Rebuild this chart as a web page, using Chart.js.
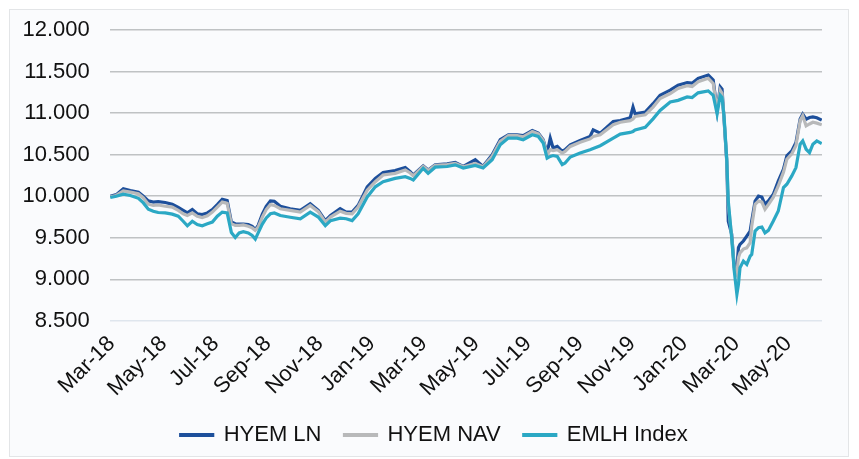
<!DOCTYPE html>
<html>
<head>
<meta charset="utf-8">
<script src="https://cdn.jsdelivr.net/npm/chart.js@4.4.1/dist/chart.umd.min.js"></script>
<style>
    html, body { margin: 0; padding: 0; background: #ffffff; }
    #frame {
        position: absolute; left: 9px; top: 9px;
        width: 838px; height: 446px;
        border: 1px solid #e3e5e7; background: #fafbfd;
    }
    canvas { display: block; }
</style>
</head>
<body>
<div id="frame"><canvas id="perfChart" width="838" height="446"></canvas></div>
<script>
// position of each observation in months, 0 = Mar-18 tick
const monthPos = [
    -0.05, 0.18, 0.45, 0.72, 1.03, 1.22, 1.41, 1.60, 1.79, 2.06,
    2.33, 2.56, 2.75, 2.91, 3.10, 3.29, 3.48, 3.68, 3.87, 4.06,
    4.25, 4.44, 4.60, 4.75, 4.90, 5.06, 5.25, 5.40, 5.52, 5.63,
    5.79, 5.94, 6.10, 6.25, 6.48, 6.86, 7.25, 7.63, 7.94, 8.21,
    8.41, 8.78, 9.01, 9.24, 9.47, 9.82, 10.13, 10.43, 10.89, 11.28,
    11.47, 11.59, 11.97, 12.16, 12.43, 12.89, 13.20, 13.51, 13.97, 14.27,
    14.62, 14.93, 15.24, 15.58, 15.81, 16.16, 16.39, 16.58, 16.73, 16.85,
    16.96, 17.12, 17.31, 17.42, 17.62, 18.00, 18.38, 18.50, 18.77, 19.27,
    19.54, 19.92, 20.03, 20.11, 20.50, 20.80, 21.07, 21.46, 21.76, 22.11,
    22.30, 22.53, 22.92, 23.11, 23.26, 23.38, 23.45, 23.53, 23.63, 23.69,
    23.82, 23.92, 24.02, 24.08, 24.14, 24.27, 24.40, 24.53, 24.59, 24.72,
    24.85, 24.98, 25.10, 25.23, 25.42, 25.61, 25.81, 25.94, 26.13, 26.29,
    26.45, 26.55, 26.68, 26.81, 26.94, 27.09, 27.28
];

const hyemLn = [
    10000, 10020, 10090, 10070, 10050, 10000, 9945, 9930, 9935, 9925,
    9905, 9865, 9830, 9800, 9840, 9790, 9780, 9800, 9840, 9900,
    9965, 9950, 9690, 9670, 9665, 9665, 9660, 9640, 9600, 9650,
    9785, 9880, 9945, 9940, 9880, 9850, 9830, 9910, 9830, 9707,
    9768, 9850, 9810, 9809, 9890, 10114, 10215, 10285, 10309, 10346,
    10297, 10256, 10366, 10317, 10378, 10390, 10406, 10360, 10440, 10360,
    10500, 10680, 10740, 10740, 10730, 10790, 10760, 10680, 10520, 10700,
    10580, 10600, 10540, 10560, 10620, 10672, 10720, 10800, 10760, 10900,
    10910, 10943, 11073, 10992, 11012, 11114, 11215, 11276, 11337, 11366,
    11360, 11419, 11459, 11398, 11033, 11317, 11290, 10910, 10425, 9700,
    9546, 9150, 9140, 9381, 9422, 9462, 9522, 9582, 9703, 9943,
    10003, 9990, 9904, 9943, 10024, 10184, 10325, 10486, 10546, 10646,
    10928, 10988, 10928, 10947, 10955, 10945, 10916
];

const hyemNav = [
    9995, 10010, 10065, 10050, 10030, 9980, 9905, 9890, 9895, 9880,
    9870, 9830, 9790, 9770, 9800, 9760, 9745, 9765, 9810, 9870,
    9930, 9915, 9670, 9650, 9650, 9655, 9640, 9620, 9590, 9630,
    9750, 9840, 9900, 9890, 9850, 9830, 9810, 9890, 9815, 9690,
    9750, 9820, 9795, 9789, 9870, 10073, 10175, 10256, 10276, 10317,
    10280, 10245, 10360, 10310, 10372, 10380, 10395, 10355, 10395, 10355,
    10480, 10660, 10730, 10730, 10715, 10780, 10750, 10670, 10500, 10560,
    10550, 10560, 10520, 10540, 10600, 10650, 10690, 10720, 10740, 10860,
    10890, 10910, 10930, 10960, 10980, 11073, 11175, 11236, 11297, 11330,
    11320, 11378, 11419, 11358, 11040, 11276, 11240, 10930, 10440, 9900,
    9520, 9120, 9060, 9260, 9320, 9365, 9380, 9441, 9640, 9904,
    9943, 9930, 9843, 9900, 9990, 10124, 10290, 10446, 10510, 10610,
    10910, 10968, 10847, 10870, 10890, 10880, 10859
];

const emlhIndex = [
    9985, 10000, 10025, 10010, 9975, 9920, 9845, 9820, 9805, 9800,
    9785, 9760, 9700, 9645, 9700, 9660, 9645, 9670, 9690, 9760,
    9810, 9800, 9565, 9505, 9560, 9575, 9560, 9530, 9485, 9560,
    9665, 9740, 9790, 9800, 9768, 9748, 9728, 9809, 9750, 9646,
    9707, 9736, 9730, 9707, 9789, 9992, 10114, 10175, 10215, 10236,
    10215, 10195, 10337, 10276, 10350, 10358, 10378, 10340, 10370, 10340,
    10440, 10620, 10700, 10700, 10680, 10740, 10720, 10640, 10460, 10480,
    10490, 10480, 10380, 10400, 10472, 10520, 10560, 10575, 10608, 10700,
    10748, 10768, 10780, 10797, 10829, 10931, 11033, 11134, 11154, 11195,
    11187, 11244, 11268, 11215, 10992, 11215, 11190, 10950, 10450, 9943,
    9501, 9100, 8819, 8940, 9140, 9220, 9180, 9281, 9300, 9582,
    9622, 9630, 9561, 9590, 9703, 9823, 10104, 10145, 10245, 10345,
    10627, 10666, 10566, 10525, 10627, 10666, 10634
];

const tickMonths = [0, 2, 4, 6, 8, 10, 12, 14, 16, 18, 20, 22, 24, 26];
const tickLabels = ['Mar-18', 'May-18', 'Jul-18', 'Sep-18', 'Nov-18', 'Jan-19', 'Mar-19',
    'May-19', 'Jul-19', 'Sep-19', 'Nov-19', 'Jan-20', 'Mar-20', 'May-20'];

const seriesNames = ['HYEM LN', 'HYEM NAV', 'EMLH Index'];
const seriesColors = ['#1d4f9b', '#b8b9ba', '#2ba8c4'];


const baseFont = { family: '"Liberation Sans", Arial, sans-serif', size: 22 };

function toPoints(values) {
    return values.map((v, i) => ({ x: monthPos[i], y: v }));
}

// legend: keep it compact and nudge it like the original
const legendTweak = {
    id: 'legendTweak',
    beforeInit(chart) {
        const legend = chart.legend;
        const fit = legend.fit;
        legend.fit = function () {
            fit.call(this);
            this.height = 52;
        };
        const draw = legend.draw;
        legend.draw = function (area) {
            this.ctx.save();
            this.ctx.translate(22, 7);
            draw.call(this, area);
            this.ctx.restore();
        };
    }
};

function buildChart() {
    const ctx = document.getElementById('perfChart');

    const allSeries = [hyemLn, hyemNav, emlhIndex];

    // later series sit on top, legend is reversed back to the original order
    const datasets = allSeries.map((values, i) => ({
        label: seriesNames[i],
        data: toPoints(values),
        borderColor: seriesColors[i],
        backgroundColor: seriesColors[i],
        borderWidth: 3.2,
        pointRadius: 0,
        tension: 0,
        order: allSeries.length - i
    }));

    new Chart(ctx, {
        type: 'line',
        data: { datasets: datasets },
        options: {
            responsive: false,
            animation: false,
            devicePixelRatio: 1,
            layout: {
                padding: { left: -7.5, right: 26, top: 20, bottom: 10 }
            },
            plugins: {
                legend: {
                    position: 'bottom',
                    reverse: true,
                    labels: {
                        boxWidth: 32,
                        boxHeight: 1,
                        padding: 23,
                        color: '#111111',
                        font: baseFont
                    }
                },
                tooltip: { enabled: false }
            },
            scales: {
                x: {
                    type: 'linear',
                    min: -0.07,
                    max: 27.29,
                    grid: { display: false },
                    border: { display: false },
                    afterBuildTicks: axis => {
                        axis.ticks = tickMonths.map(v => ({ value: v }));
                    },
                    afterFit: axis => {
                        // labels are allowed to hang below the axis box
                        axis.height = 73;
                        axis._computeLabelArea = () => undefined;
                    },
                    ticks: {
                        autoSkip: false,
                        minRotation: 45,
                        maxRotation: 45,
                        padding: 2,
                        color: '#111111',
                        font: baseFont,
                        callback: (value, index) => tickLabels[index]
                    }
                },
                y: {
                    min: 8500,
                    max: 12000,
                    border: { display: false },
                    afterFit: axis => {
                        // tick padding should not push the plot down
                        axis.paddingTop = 0;
                    },
                    grid: {
                        drawTicks: false,
                        lineWidth: 1.6,
                        color: c => c.tick && c.tick.value === 8500 ? '#dfe6ee' : '#bfc2c4'
                    },
                    ticks: {
                        stepSize: 500,
                        padding: 20,
                        color: '#111111',
                        font: baseFont,
                        callback: v => (v / 1000).toFixed(3)
                    }
                }
            }
        },
        plugins: [legendTweak]
    });
}

buildChart();
</script>
</body>
</html>
